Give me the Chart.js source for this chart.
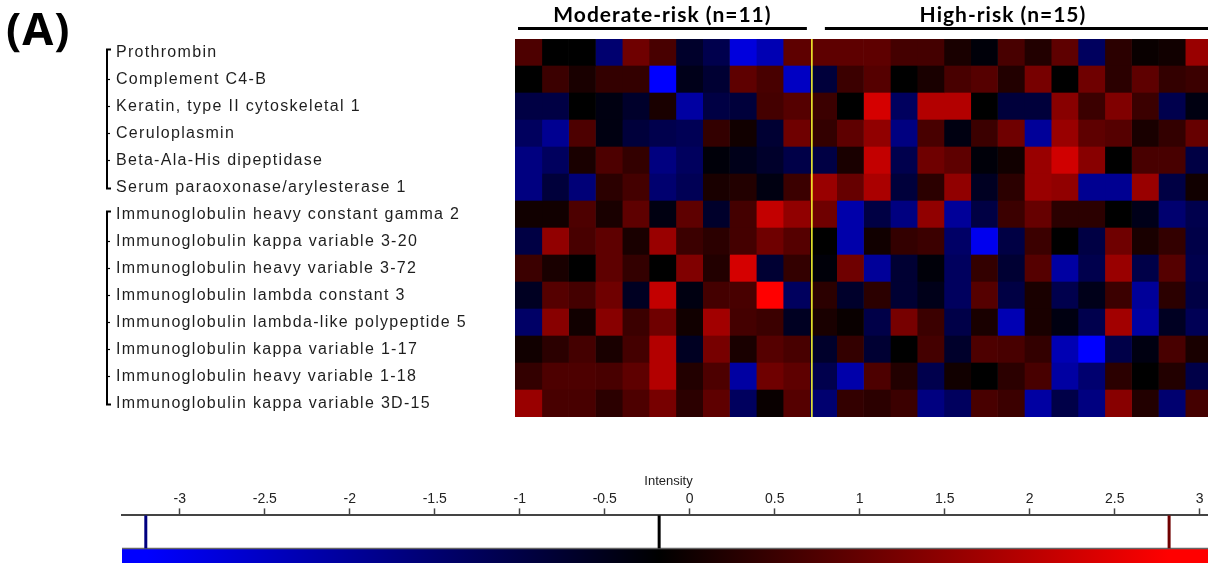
<!DOCTYPE html>
<html>
<head>
<meta charset="utf-8">
<script src="https://cdn.jsdelivr.net/npm/chart.js@4.4.0/dist/chart.umd.min.js"></script>
<style>
  html, body { margin: 0; padding: 0; background: #fff; overflow: hidden; width: 1208px; height: 563px; }
  #heat { position: absolute; left: 0; top: 0; }
  #scaleBar { position: absolute; left: 0; top: 460px; }
</style>
</head>
<body>
<canvas id="heat" width="1216" height="440"></canvas>
<canvas id="scaleBar" width="1216" height="103"></canvas>
<script>
// protein rows, top to bottom
const proteins = [
  'Prothrombin',
  'Complement C4-B',
  'Keratin, type II cytoskeletal 1',
  'Ceruloplasmin',
  'Beta-Ala-His dipeptidase',
  'Serum paraoxonase/arylesterase 1',
  'Immunoglobulin heavy constant gamma 2',
  'Immunoglobulin kappa variable 3-20',
  'Immunoglobulin heavy variable 3-72',
  'Immunoglobulin lambda constant 3',
  'Immunoglobulin lambda-like polypeptide 5',
  'Immunoglobulin kappa variable 1-17',
  'Immunoglobulin heavy variable 1-18',
  'Immunoglobulin kappa variable 3D-15'
];

// sample groups (columns)
const groupNames = ['Moderate-risk (n=11)', 'High-risk (n=15)'];
const groupSizes = [11, 15];

// protein clusters (row index ranges) for the dendrogram brackets
const clusters = [[0, 5], [6, 13]];

// intensity per protein, 26 samples each (11 moderate, 15 high)
const intensity = [
  [0.9, 0, 0, -1.3, 1.3, 0.85, -0.5, -0.9, -2.6, -2.1, 1.1,   1.1, 1.1, 1.1, 0.8, 0.8, 0.3, -0.1, 0.85, 0.4, 1.1, -1.1, 0.5, 0.1, 0.2, 1.8],
  [0, 0.7, 0.3, 0.6, 0.6, -3.0, -0.3, -0.6, 1.1, 0.85, -2.3,  -0.7, 0.7, 1.0, 0, 0.3, 0.85, 1.0, 0.4, 1.4, 0, 1.3, 0.5, 1.1, 0.6, 0.7],
  [-0.8, -0.8, 0, -0.2, -0.5, 0.3, -1.9, -0.8, -0.7, 0.8, 1.0, 0.7, 0, 2.5, -1.1, 2.1, 2.1, 0, -0.7, -0.7, 1.6, 0.7, 1.5, 0.7, -0.9, -0.2],
  [-1.1, -1.7, 0.9, -0.2, -0.7, -0.9, -1.0, 0.6, 0.2, -0.6, 1.3, 0.6, 1.1, 1.7, -1.5, 0.85, -0.2, 0.7, 1.3, -1.8, 1.8, 1.1, 1.0, 0.3, 0.6, 1.2],
  [-1.5, -1.1, 0.3, 0.9, 0.6, -1.5, -1.1, -0.1, -0.3, -0.5, -0.85, -0.8, 0.3, 2.3, -0.9, 1.3, 1.1, -0.1, 0.2, 1.8, 2.45, 1.6, 0, 0.85, 0.85, -0.8],
  [-1.5, -0.7, -1.4, 0.5, 0.8, -1.3, -1.0, 0.3, 0.4, -0.2, 0.7, 1.8, 1.2, 2.0, -0.7, 0.5, 1.7, -0.4, 0.5, 1.8, 1.7, -1.7, -1.7, 1.8, -0.8, 0.2],
  [0.2, 0.2, 0.9, 0.3, 1.1, -0.2, 1.1, -0.5, 0.8, 2.3, 1.7,   1.3, -2.0, -0.8, -1.5, 1.7, -1.8, -0.8, 0.7, 1.2, 0.5, 0.5, 0, -0.3, -1.3, -0.9],
  [-0.8, 1.7, 0.85, 1.1, 0.3, 1.8, 0.7, 0.5, 0.8, 1.3, 1.0,   0, -2.0, 0.2, 0.6, 0.7, -1.2, -2.8, -0.8, 0.7, 0, -0.8, 1.3, 0.3, 0.6, -0.85],
  [0.7, 0.3, 0, 1.1, 0.6, 0, 1.5, 0.4, 2.5, -0.6, 0.6,        -0.1, 1.3, -1.8, -0.6, -0.1, -1.1, 0.6, -0.6, 1.0, -1.9, -0.9, 1.8, -0.85, 1.0, -0.9],
  [-0.4, 1.0, 0.8, 1.3, -0.4, 2.3, -0.2, 0.8, 0.85, 3.0, -1.1, 0.5, -0.5, 0.5, -0.6, -0.3, -1.1, 1.0, -0.8, 0.3, -0.9, -0.3, 0.7, -1.8, 0.5, -0.8],
  [-1.2, 1.6, 0.2, 1.6, 0.7, 1.3, 0.2, 1.9, 0.8, 0.7, -0.4,   0.3, 0.1, -0.85, 1.4, 0.7, -0.85, 0.3, -2.1, 0.3, -0.2, -0.9, 1.9, -1.9, -0.4, -1.0],
  [0.2, 0.5, 0.8, 0.3, 0.8, 2.1, -0.4, 1.4, 0.3, 1.0, 0.85,   -0.5, 0.6, -0.6, 0, 0.8, -0.5, 0.9, 0.85, 0.6, -2.1, -3.0, -0.85, -0.2, 0.85, 0.3],
  [0.6, 0.9, 0.9, 0.85, 1.1, 2.1, 0.4, 0.9, -1.9, 1.3, 1.1,   -0.9, -2.0, 0.9, 0.4, -0.9, 0.2, 0, 0.5, 0.85, -1.9, -1.3, 0.5, 0, 0.4, -0.85],
  [1.8, 0.85, 0.85, 0.5, 0.9, 1.4, 0.5, 1.1, -1.1, 0.1, 1.0,  -1.3, 0.6, 0.5, 0.7, -1.5, -1.1, 0.85, 0.7, -1.9, -0.85, -1.5, 1.6, 0.4, -1.3, 0.8]
];

// colour scale
const scaleMin = -3.34;
const scaleMax = 3.09;
const markerValues = [-3.2, -0.18, 2.82];
const markerColors = ['#000080', '#000000', '#700000'];

function cellColor(v) {
  const c = Math.round(Math.min(1, Math.abs(v) / 3) * 255);
  return v >= 0 ? `rgb(${c},0,0)` : `rgb(0,0,${c})`;
}

const nSamples = groupSizes.reduce((a, b) => a + b, 0);
const datasets = [];
for (let s = 0; s < nSamples; s++) {
  datasets.push({
    label: 'sample ' + (s + 1),
    data: proteins.map(() => 1),
    backgroundColor: intensity.map(row => cellColor(row[s])),
    borderWidth: 0,
    barPercentage: 1,
    categoryPercentage: 1
  });
}

const heatDecor = {
  id: 'heatDecor',
  beforeDraw(chart) {
    // the row labels in the original are set wider than Arial
    chart.ctx.letterSpacing = '1.3px';
  },
  afterDraw(chart) {
    const ctx = chart.ctx;
    const xs = chart.scales.x, ys = chart.scales.y;
    const area = chart.chartArea;
    ctx.save();

    // panel letter
    ctx.letterSpacing = '1px';
    ctx.fillStyle = '#000';
    ctx.font = 'bold 45px "Open Sans"';
    ctx.textBaseline = 'alphabetic';
    ctx.textAlign = 'left';
    ctx.fillText('(A)', 6, 45);

    // group separator
    const sep = xs.getPixelForValue(groupSizes[0]);
    ctx.strokeStyle = '#ffff30';
    ctx.lineWidth = 1.5;
    ctx.beginPath();
    ctx.moveTo(sep + 2, area.top);
    ctx.lineTo(sep + 2, area.bottom);
    ctx.stroke();

    // group headers
    const x0 = xs.getPixelForValue(0), x1 = sep, x2 = xs.getPixelForValue(nSamples);
    const heads = [
      { from: x0 + 3, to: x1 - 3, cx: (x0 + x1) / 2 },
      { from: x1 + 15, to: x2, cx: (x1 + x2) / 2 - 8 }
    ];
    ctx.letterSpacing = '1px';
    ctx.font = 'bold 21px Lato';
    ctx.textAlign = 'center';
    ctx.lineWidth = 3;
    ctx.strokeStyle = '#000';
    heads.forEach((h, i) => {
      ctx.fillText(groupNames[i], h.cx, 22);
      ctx.beginPath();
      ctx.moveTo(h.from, 28.5);
      ctx.lineTo(h.to, 28.5);
      ctx.stroke();
    });

    // dendrogram brackets
    const bx = 107;
    clusters.forEach(([a, b]) => {
      const top = ys.getPixelForValue(a) - 3;
      const bot = ys.getPixelForValue(b) + 1;
      ctx.lineWidth = 2;
      ctx.beginPath();
      ctx.moveTo(bx + 4, top);
      ctx.lineTo(bx, top);
      ctx.lineTo(bx, bot);
      ctx.lineTo(bx + 4, bot);
      ctx.stroke();
      ctx.lineWidth = 1.2;
      for (let r = a + 1; r < b; r++) {
        const y = ys.getPixelForValue(r);
        ctx.beginPath();
        ctx.moveTo(bx, y);
        ctx.lineTo(bx + 3, y);
        ctx.stroke();
      }
    });
    ctx.restore();
  }
};

new Chart(document.getElementById('heat'), {
  type: 'bar',
  data: { labels: proteins, datasets: datasets },
  options: {
    indexAxis: 'y',
    responsive: false,
    animation: false,
    layout: { padding: { left: 116, top: 39, right: 4, bottom: 23 } },
    plugins: { legend: { display: false }, tooltip: { enabled: false } },
    scales: {
      x: { stacked: true, min: 0, max: nSamples, display: false },
      y: {
        stacked: true,
        grid: { display: false },
        border: { display: false },
        ticks: {
          crossAlign: 'far',
          padding: 0,
          color: '#1e1e1e',
          font: { family: '"Liberation Sans", Arial', size: 16 }
        },
        afterFit(scale) { scale.width = 399; }
      }
    }
  },
  plugins: [heatDecor]
});

const barDecor = {
  id: 'barDecor',
  beforeDatasetsDraw(chart) {
    const ctx = chart.ctx;
    const xs = chart.scales.x;
    const area = chart.chartArea;
    const gTop = area.top + 33;
    ctx.save();
    const grad = ctx.createLinearGradient(area.left, 0, area.right, 0);
    const span = area.right - area.left;
    const stops = ['#0000ff', '#000000', '#ff0000'];
    markerValues.forEach((v, i) => {
      const p = (xs.getPixelForValue(v) - area.left) / span;
      grad.addColorStop(Math.max(0, Math.min(1, p)), stops[i]);
    });
    ctx.fillStyle = grad;
    ctx.fillRect(area.left, gTop, span, area.bottom - gTop);

    ctx.strokeStyle = '#666';
    ctx.lineWidth = 1.5;
    ctx.beginPath();
    ctx.moveTo(area.left, gTop);
    ctx.lineTo(area.right, gTop);
    ctx.stroke();

    ctx.lineWidth = 3;
    markerValues.forEach((v, i) => {
      const x = xs.getPixelForValue(v);
      ctx.strokeStyle = markerColors[i];
      ctx.beginPath();
      ctx.moveTo(x, area.top);
      ctx.lineTo(x, gTop);
      ctx.stroke();
    });
    ctx.restore();
  }
};

new Chart(document.getElementById('scaleBar'), {
  type: 'scatter',
  data: { datasets: [] },
  options: {
    responsive: false,
    animation: false,
    layout: { padding: { left: 122, right: 1, top: 14, bottom: 0 } },
    plugins: { legend: { display: false }, tooltip: { enabled: false } },
    scales: {
      x: {
        type: 'linear',
        position: 'top',
        min: scaleMin,
        max: scaleMax,
        grid: { drawOnChartArea: false, drawTicks: true, tickLength: 7, color: '#444', tickWidth: 1.5 },
        border: { display: true, color: '#444', width: 2 },
        ticks: {
          stepSize: 0.5,
          includeBounds: false,
          maxRotation: 0,
          autoSkip: false,
          padding: 1,
          color: '#222',
          font: { family: '"Liberation Sans", Arial', size: 14 },
          callback: v => String(Math.round(v * 10) / 10)
        },
        title: {
          display: true,
          text: 'Intensity',
          color: '#222',
          padding: { top: 0, bottom: 0 },
          font: { family: '"Liberation Sans", Arial', size: 13 }
        }
      },
      y: { display: false, min: 0, max: 1 }
    }
  },
  plugins: [barDecor]
});
</script>
</body>
</html>
